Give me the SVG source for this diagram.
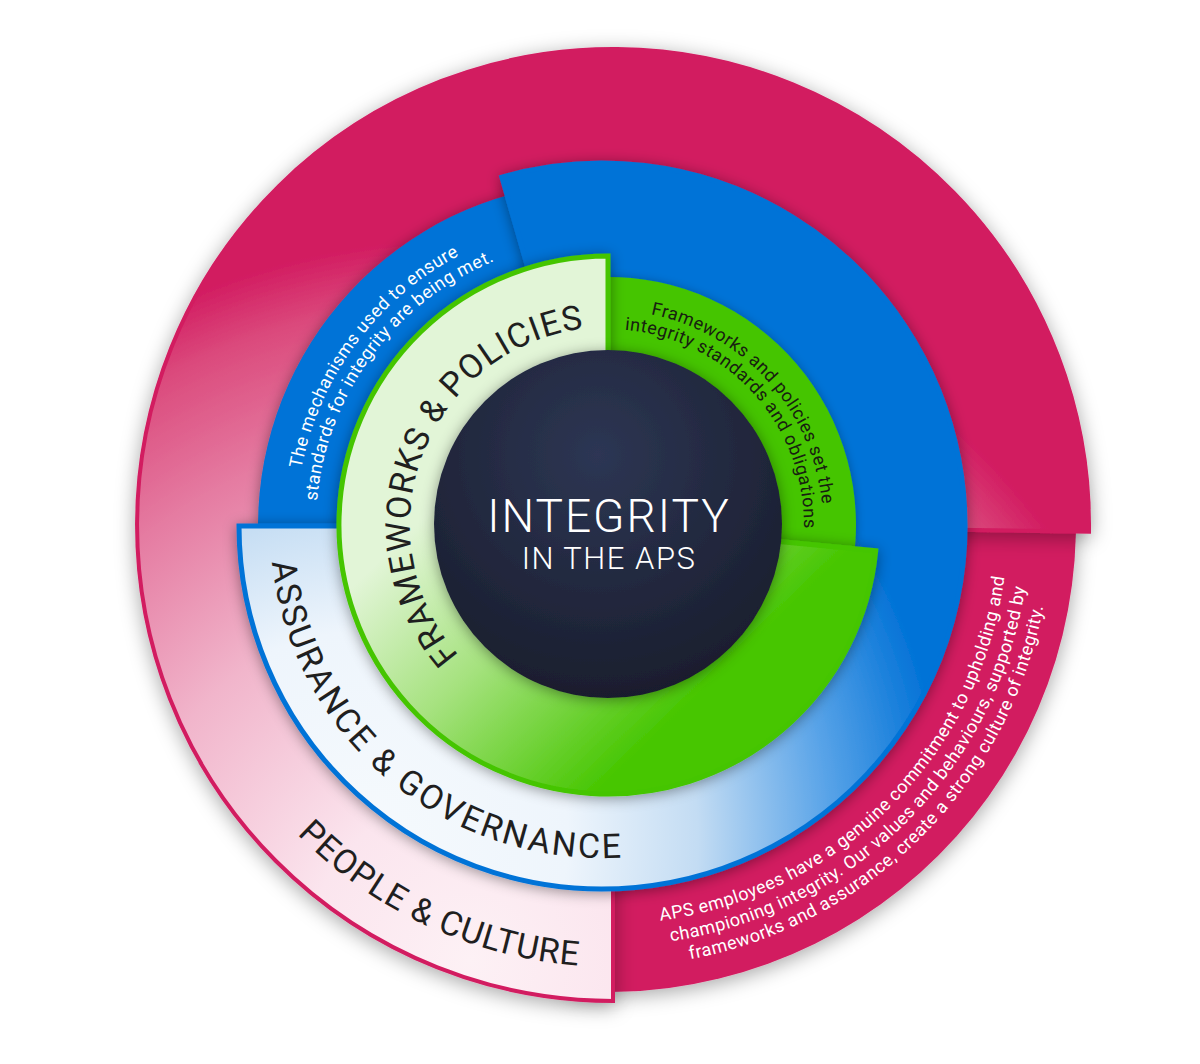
<svg xmlns="http://www.w3.org/2000/svg" width="1200" height="1064" viewBox="0 0 1200 1064">
<defs>
<style>
.t{font-family:Roboto,'Liberation Sans',sans-serif}
.title{font-size:34px;fill:#1f1f1f;letter-spacing:1px}
.desc{font-size:18px;letter-spacing:0.5px}
.white{fill:#ffffff}
.dark{fill:#172010}
</style>
<filter id="outerShadow" x="-10%" y="-10%" width="120%" height="120%">
<feDropShadow dx="0" dy="4" stdDeviation="10" flood-color="#000" flood-opacity="0.35"/>
</filter>
<filter id="shadow" x="-10%" y="-10%" width="120%" height="120%">
<feDropShadow dx="0" dy="2" stdDeviation="7" flood-color="#000" flood-opacity="0.4"/>
</filter>
<filter id="softShadow" x="-10%" y="-10%" width="120%" height="120%">
<feDropShadow dx="0" dy="1" stdDeviation="5" flood-color="#000" flood-opacity="0.3"/>
</filter>
<radialGradient id="pinkGrad" gradientUnits="userSpaceOnUse" cx="470" cy="960" r="820">
<stop offset="0" stop-color="#fdf1f5"/>
<stop offset="0.2" stop-color="#fbe5ee"/>
<stop offset="0.45" stop-color="#f1b5cb"/>
<stop offset="0.65" stop-color="#e57ca2"/>
<stop offset="0.8" stop-color="#db4b7d"/>
<stop offset="0.88" stop-color="#d21c61"/>
<stop offset="1" stop-color="#d21c61"/>
</radialGradient>
<radialGradient id="blueGrad" gradientUnits="userSpaceOnUse" cx="360" cy="840" r="650">
<stop offset="0" stop-color="#f6fafd"/>
<stop offset="0.32" stop-color="#eef5fc"/>
<stop offset="0.52" stop-color="#c3dcf3"/>
<stop offset="0.72" stop-color="#5aa4e8"/>
<stop offset="0.9" stop-color="#0373d7"/>
<stop offset="1" stop-color="#0373d7"/>
</radialGradient>
<linearGradient id="greenGrad" gradientUnits="userSpaceOnUse" x1="380" y1="560" x2="600" y2="790">
<stop offset="0" stop-color="#e2f5d7"/>
<stop offset="0.45" stop-color="#a6e27f"/>
<stop offset="1" stop-color="#46c600"/>
</linearGradient>
<radialGradient id="coreGrad" cx="0.47" cy="0.3" r="0.75">
<stop offset="0" stop-color="#2d3654"/>
<stop offset="1" stop-color="#181c2b"/>
</radialGradient>
<!-- text paths -->
<path id="pFrame" d="M521.2,702.96 A198,198 0 0 1 662.58,334.67"/>
<path id="pAssur" d="M330.04,335.57 A332,332 0 0 0 836.76,760.76"/>
<path id="pPeople" d="M197.66,373.83 A442,442 0 0 0 995.79,746"/>
<path id="pG1" d="M478.61,353.29 A215,215 0 0 1 765.24,671.63"/>
<path id="pG2" d="M490.04,368.47 A196,196 0 0 1 751.34,658.67"/>
<path id="pB1" d="M399.24,755.18 A306,306 0 0 1 761.89,265.09"/>
<path id="pB2" d="M412.49,740.2 A286,286 0 0 1 751.44,282.14"/>
<path id="pP1" d="M350.88,830.42 A400,400 0 0 0 914.42,266.88"/>
<path id="pP2" d="M336.74,847.27 A422,422 0 0 0 931.27,252.74"/>
<path id="pP3" d="M323.24,863.36 A443,443 0 0 0 947.36,239.24"/>
</defs>
<rect width="1200" height="1064" fill="#ffffff"/>

<g id="people-culture">
<path d="M608,524 L1074.2,483.2 A468,468 0 0 1 567.2,990.2 Z" fill="#d21c61" filter="url(#outerShadow)"/>
<path d="M613,525 L613,1001 A476,476 0 1 1 1089,531.6 Z" fill="url(#pinkGrad)" stroke="#d21c61" stroke-width="4" stroke-linejoin="miter" filter="url(#outerShadow)"/>
<text class="t title"><textPath href="#pPeople" startOffset="50%" text-anchor="middle">PEOPLE &amp; CULTURE</textPath></text>
<text class="t desc white"><textPath href="#pP1" startOffset="50%" text-anchor="middle">APS employees have a genuine commitment to upholding and</textPath></text>
<text class="t desc white"><textPath href="#pP2" startOffset="50%" text-anchor="middle">championing integrity. Our values and behaviours, supported by</textPath></text>
<text class="t desc white"><textPath href="#pP3" startOffset="50%" text-anchor="middle">frameworks and assurance, create a strong culture of integrity.</textPath></text>
</g>

<g id="assurance-governance">
<path d="M602,526 L259.3,556 A344,344 0 0 1 542.3,187.2 Z" fill="#0373d7" filter="url(#shadow)"/>
<path d="M602,526 L501.9,177.1 A363,363 0 1 1 239,526 Z" fill="url(#blueGrad)" stroke="#0373d7" stroke-width="5" filter="url(#shadow)"/>
<text class="t title"><textPath href="#pAssur" startOffset="50%" text-anchor="middle" letter-spacing="2.5">ASSURANCE &amp; GOVERNANCE</textPath></text>
<text class="t desc white"><textPath href="#pB1" startOffset="50%" text-anchor="middle">The mechanisms used to ensure</textPath></text>
<text class="t desc white"><textPath href="#pB2" startOffset="50%" text-anchor="middle">standards for integrity are being met.</textPath></text>
</g>

<g id="frameworks-policies">
<path d="M608,525 L604,277 A248,248 0 0 1 852.2,568 Z" fill="#45c500" filter="url(#softShadow)"/>
<path d="M608,525 L875.7,550.8 A269,269 0 1 1 608,256 Z" fill="url(#greenGrad)" stroke="#45c500" stroke-width="5" filter="url(#shadow)"/>
<text class="t title"><textPath href="#pFrame" startOffset="50%" text-anchor="middle">FRAMEWORKS &amp; POLICIES</textPath></text>
<text class="t desc dark"><textPath href="#pG1" startOffset="50%" text-anchor="middle">Frameworks and policies set the</textPath></text>
<text class="t desc dark"><textPath href="#pG2" startOffset="50%" text-anchor="middle">integrity standards and obligations</textPath></text>
</g>

<g id="integrity-core">
<circle cx="608" cy="524" r="174" fill="url(#coreGrad)" filter="url(#shadow)"/>
<text class="t" x="609" y="532" text-anchor="middle" font-size="46" font-weight="300" fill="#ffffff" letter-spacing="2">INTEGRITY</text>
<text class="t" x="609" y="569" text-anchor="middle" font-size="31" font-weight="300" fill="#ffffff" letter-spacing="1.5">IN THE APS</text>
</g>

<g id="connectors"/>
</svg>
